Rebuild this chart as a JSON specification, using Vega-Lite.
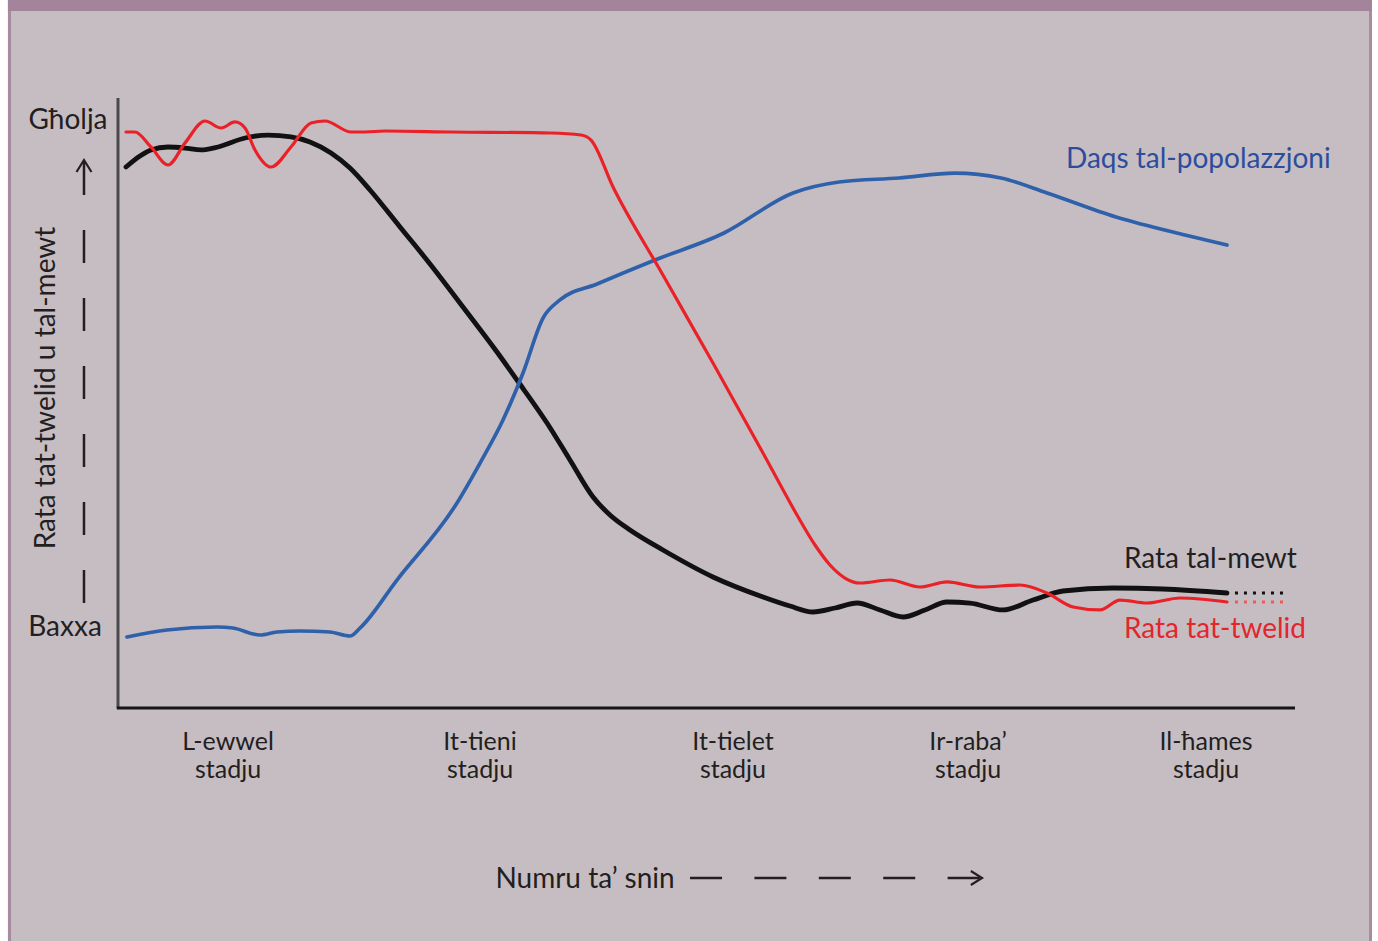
{
  "$schema": "https://vega.github.io/schema/vega-lite/v6.json",
  "width": 1177,
  "height": 610,
  "autosize": {"type": "none"},
  "padding": {"left": 118, "top": 98, "right": 83, "bottom": 233},
  "background": "#c6bdc3",
  "config": {
    "view": {"stroke": null},
    "font": "Lato",
    "text": {"font": "Lato", "fontSize": 28, "color": "#231f20"}
  },
  "datasets": {
    "curves": [
      {"series": "Rata tal-mewt", "x": 0.68, "y": 88.69},
      {"series": "Rata tal-mewt", "x": 1.87, "y": 90.49},
      {"series": "Rata tal-mewt", "x": 2.80, "y": 91.48},
      {"series": "Rata tal-mewt", "x": 4.25, "y": 91.97},
      {"series": "Rata tal-mewt", "x": 5.69, "y": 91.80},
      {"series": "Rata tal-mewt", "x": 7.05, "y": 91.48},
      {"series": "Rata tal-mewt", "x": 8.50, "y": 91.97},
      {"series": "Rata tal-mewt", "x": 10.79, "y": 93.44},
      {"series": "Rata tal-mewt", "x": 12.74, "y": 93.93},
      {"series": "Rata tal-mewt", "x": 14.70, "y": 93.61},
      {"series": "Rata tal-mewt", "x": 16.31, "y": 92.79},
      {"series": "Rata tal-mewt", "x": 18.10, "y": 90.98},
      {"series": "Rata tal-mewt", "x": 19.71, "y": 88.52},
      {"series": "Rata tal-mewt", "x": 21.41, "y": 84.92},
      {"series": "Rata tal-mewt", "x": 23.96, "y": 78.85},
      {"series": "Rata tal-mewt", "x": 26.51, "y": 72.79},
      {"series": "Rata tal-mewt", "x": 29.31, "y": 65.74},
      {"series": "Rata tal-mewt", "x": 32.20, "y": 58.36},
      {"series": "Rata tal-mewt", "x": 33.90, "y": 53.77},
      {"series": "Rata tal-mewt", "x": 36.45, "y": 46.72},
      {"series": "Rata tal-mewt", "x": 38.40, "y": 40.66},
      {"series": "Rata tal-mewt", "x": 40.36, "y": 34.59},
      {"series": "Rata tal-mewt", "x": 41.80, "y": 31.64},
      {"series": "Rata tal-mewt", "x": 43.50, "y": 29.18},
      {"series": "Rata tal-mewt", "x": 46.30, "y": 25.90},
      {"series": "Rata tal-mewt", "x": 50.55, "y": 21.48},
      {"series": "Rata tal-mewt", "x": 54.80, "y": 18.20},
      {"series": "Rata tal-mewt", "x": 57.09, "y": 16.72},
      {"series": "Rata tal-mewt", "x": 59.05, "y": 15.74},
      {"series": "Rata tal-mewt", "x": 60.92, "y": 16.39},
      {"series": "Rata tal-mewt", "x": 62.79, "y": 17.21},
      {"series": "Rata tal-mewt", "x": 64.74, "y": 16.07},
      {"series": "Rata tal-mewt", "x": 66.70, "y": 14.92},
      {"series": "Rata tal-mewt", "x": 68.56, "y": 16.07},
      {"series": "Rata tal-mewt", "x": 70.43, "y": 17.38},
      {"series": "Rata tal-mewt", "x": 72.39, "y": 17.21},
      {"series": "Rata tal-mewt", "x": 75.19, "y": 16.07},
      {"series": "Rata tal-mewt", "x": 77.74, "y": 17.70},
      {"series": "Rata tal-mewt", "x": 80.29, "y": 19.18},
      {"series": "Rata tal-mewt", "x": 84.54, "y": 19.67},
      {"series": "Rata tal-mewt", "x": 88.78, "y": 19.51},
      {"series": "Rata tal-mewt", "x": 94.22, "y": 18.85},

      {"series": "Daqs tal-popolazzjoni", "x": 0.76, "y": 11.64},
      {"series": "Daqs tal-popolazzjoni", "x": 4.16, "y": 12.79},
      {"series": "Daqs tal-popolazzjoni", "x": 8.41, "y": 13.28},
      {"series": "Daqs tal-popolazzjoni", "x": 9.77, "y": 13.11},
      {"series": "Daqs tal-popolazzjoni", "x": 12.06, "y": 11.97},
      {"series": "Daqs tal-popolazzjoni", "x": 13.51, "y": 12.46},
      {"series": "Daqs tal-popolazzjoni", "x": 15.46, "y": 12.62},
      {"series": "Daqs tal-popolazzjoni", "x": 18.01, "y": 12.46},
      {"series": "Daqs tal-popolazzjoni", "x": 19.71, "y": 11.80},
      {"series": "Daqs tal-popolazzjoni", "x": 20.56, "y": 13.11},
      {"series": "Daqs tal-popolazzjoni", "x": 23.70, "y": 20.98},
      {"series": "Daqs tal-popolazzjoni", "x": 28.80, "y": 33.61},
      {"series": "Daqs tal-popolazzjoni", "x": 30.76, "y": 40.16},
      {"series": "Daqs tal-popolazzjoni", "x": 32.71, "y": 47.21},
      {"series": "Daqs tal-popolazzjoni", "x": 34.41, "y": 54.92},
      {"series": "Daqs tal-popolazzjoni", "x": 36.11, "y": 63.93},
      {"series": "Daqs tal-popolazzjoni", "x": 37.55, "y": 66.89},
      {"series": "Daqs tal-popolazzjoni", "x": 40.70, "y": 69.51},
      {"series": "Daqs tal-popolazzjoni", "x": 45.62, "y": 73.44},
      {"series": "Daqs tal-popolazzjoni", "x": 51.49, "y": 77.87},
      {"series": "Daqs tal-popolazzjoni", "x": 57.35, "y": 84.43},
      {"series": "Daqs tal-popolazzjoni", "x": 61.26, "y": 86.23},
      {"series": "Daqs tal-popolazzjoni", "x": 66.36, "y": 86.89},
      {"series": "Daqs tal-popolazzjoni", "x": 71.11, "y": 87.70},
      {"series": "Daqs tal-popolazzjoni", "x": 75.02, "y": 86.89},
      {"series": "Daqs tal-popolazzjoni", "x": 78.93, "y": 84.43},
      {"series": "Daqs tal-popolazzjoni", "x": 84.79, "y": 80.49},
      {"series": "Daqs tal-popolazzjoni", "x": 90.65, "y": 77.54},
      {"series": "Daqs tal-popolazzjoni", "x": 94.22, "y": 75.90},

      {"series": "Rata tat-twelid", "x": 0.68, "y": 94.43},
      {"series": "Rata tat-twelid", "x": 1.44, "y": 94.43},
      {"series": "Rata tat-twelid", "x": 2.80, "y": 91.97},
      {"series": "Rata tat-twelid", "x": 4.25, "y": 89.02},
      {"series": "Rata tat-twelid", "x": 5.69, "y": 92.62},
      {"series": "Rata tat-twelid", "x": 7.39, "y": 96.23},
      {"series": "Rata tat-twelid", "x": 8.75, "y": 95.08},
      {"series": "Rata tat-twelid", "x": 9.94, "y": 96.07},
      {"series": "Rata tat-twelid", "x": 10.79, "y": 95.08},
      {"series": "Rata tat-twelid", "x": 11.64, "y": 91.48},
      {"series": "Rata tat-twelid", "x": 13.00, "y": 88.69},
      {"series": "Rata tat-twelid", "x": 14.70, "y": 91.97},
      {"series": "Rata tat-twelid", "x": 16.40, "y": 95.90},
      {"series": "Rata tat-twelid", "x": 17.59, "y": 96.23},
      {"series": "Rata tat-twelid", "x": 19.80, "y": 94.43},
      {"series": "Rata tat-twelid", "x": 20.99, "y": 94.43},
      {"series": "Rata tat-twelid", "x": 22.68, "y": 94.59},
      {"series": "Rata tat-twelid", "x": 28.29, "y": 94.43},
      {"series": "Rata tat-twelid", "x": 36.79, "y": 94.26},
      {"series": "Rata tat-twelid", "x": 39.34, "y": 93.93},
      {"series": "Rata tat-twelid", "x": 40.19, "y": 93.11},
      {"series": "Rata tat-twelid", "x": 42.06, "y": 85.41},
      {"series": "Rata tat-twelid", "x": 46.30, "y": 70.98},
      {"series": "Rata tat-twelid", "x": 50.55, "y": 56.56},
      {"series": "Rata tat-twelid", "x": 54.80, "y": 41.80},
      {"series": "Rata tat-twelid", "x": 57.69, "y": 31.64},
      {"series": "Rata tat-twelid", "x": 59.22, "y": 26.72},
      {"series": "Rata tat-twelid", "x": 60.49, "y": 23.44},
      {"series": "Rata tat-twelid", "x": 61.76, "y": 21.31},
      {"series": "Rata tat-twelid", "x": 63.04, "y": 20.49},
      {"series": "Rata tat-twelid", "x": 65.59, "y": 20.98},
      {"series": "Rata tat-twelid", "x": 68.14, "y": 19.84},
      {"series": "Rata tat-twelid", "x": 70.43, "y": 20.66},
      {"series": "Rata tat-twelid", "x": 73.24, "y": 19.84},
      {"series": "Rata tat-twelid", "x": 76.64, "y": 20.16},
      {"series": "Rata tat-twelid", "x": 78.93, "y": 18.85},
      {"series": "Rata tat-twelid", "x": 81.14, "y": 16.56},
      {"series": "Rata tat-twelid", "x": 83.43, "y": 16.07},
      {"series": "Rata tat-twelid", "x": 85.13, "y": 17.70},
      {"series": "Rata tat-twelid", "x": 87.43, "y": 17.21},
      {"series": "Rata tat-twelid", "x": 90.23, "y": 18.03},
      {"series": "Rata tat-twelid", "x": 94.22, "y": 17.38}
    ]
  },
  "layer": [
    {
      "data": {"values": [{}]},
      "mark": {"type": "rule", "color": "#4a4a4a", "strokeWidth": 3},
      "encoding": {
        "x": {"datum": 0, "type": "quantitative", "scale": {"domain": [0, 100], "nice": false, "zero": false}, "axis": null},
        "y": {"datum": 0, "type": "quantitative", "scale": {"domain": [0, 100], "nice": false, "zero": false}, "axis": null},
        "y2": {"datum": 100}
      }
    },
    {
      "data": {"values": [{}]},
      "mark": {"type": "rule", "color": "#151515", "strokeWidth": 3},
      "encoding": {
        "x": {"datum": -0.1, "type": "quantitative", "axis": null},
        "x2": {"datum": 100},
        "y": {"datum": 0, "type": "quantitative", "axis": null}
      }
    },
    {
      "data": {"name": "curves"},
      "transform": [{"filter": "datum.series == 'Rata tal-mewt'"}],
      "mark": {"type": "line", "interpolate": "monotone", "color": "#111111", "strokeWidth": 4.8, "strokeCap": "round"},
      "encoding": {
        "x": {"field": "x", "type": "quantitative", "scale": {"domain": [0, 100], "nice": false, "zero": false}, "axis": null},
        "y": {"field": "y", "type": "quantitative", "scale": {"domain": [0, 100], "nice": false, "zero": false}, "axis": null}
      }
    },
    {
      "data": {"name": "curves"},
      "transform": [{"filter": "datum.series == 'Daqs tal-popolazzjoni'"}],
      "mark": {"type": "line", "interpolate": "monotone", "color": "#2f61ab", "strokeWidth": 3.7, "strokeCap": "round"},
      "encoding": {
        "x": {"field": "x", "type": "quantitative", "axis": null},
        "y": {"field": "y", "type": "quantitative", "axis": null}
      }
    },
    {
      "data": {"name": "curves"},
      "transform": [{"filter": "datum.series == 'Rata tat-twelid'"}],
      "mark": {"type": "line", "interpolate": "monotone", "color": "#ea2228", "strokeWidth": 3.2, "strokeCap": "round"},
      "encoding": {
        "x": {"field": "x", "type": "quantitative", "axis": null},
        "y": {"field": "y", "type": "quantitative", "axis": null}
      }
    },
    {
      "data": {"values": [{}]},
      "mark": {"type": "rect", "fill": "#ffffff"},
      "encoding": {
        "x": {"datum": -10.03, "type": "quantitative", "axis": null},
        "x2": {"datum": -9.35},
        "y": {"datum": 116.07, "type": "quantitative", "axis": null},
        "y2": {"datum": -38.2}
      }
    },
    {
      "data": {"values": [{}]},
      "mark": {"type": "rect", "fill": "#ffffff"},
      "encoding": {
        "x": {"datum": 106.54, "type": "quantitative", "axis": null},
        "x2": {"datum": 107.05},
        "y": {"datum": 116.07, "type": "quantitative", "axis": null},
        "y2": {"datum": -38.2}
      }
    },
    {
      "data": {"values": [{}]},
      "mark": {"type": "rect", "fill": "#a88b9f"},
      "encoding": {
        "x": {"datum": -9.35, "type": "quantitative", "axis": null},
        "x2": {"datum": -9.09},
        "y": {"datum": 116.07, "type": "quantitative", "axis": null},
        "y2": {"datum": -38.2}
      }
    },
    {
      "data": {"values": [{}]},
      "mark": {"type": "rect", "fill": "#a88b9f"},
      "encoding": {
        "x": {"datum": 106.29, "type": "quantitative", "axis": null},
        "x2": {"datum": 106.54},
        "y": {"datum": 116.07, "type": "quantitative", "axis": null},
        "y2": {"datum": -38.2}
      }
    },
    {
      "data": {"values": [{}]},
      "mark": {"type": "rect", "fill": "#a4849a"},
      "encoding": {
        "x": {"datum": -9.35, "type": "quantitative", "axis": null},
        "x2": {"datum": 106.54},
        "y": {"datum": 116.07, "type": "quantitative", "axis": null},
        "y2": {"datum": 114.26}
      }
    },
    {
      "data": {"values": [{}]},
      "mark": {"type": "rule", "color": "#111111", "strokeWidth": 3, "strokeDash": [3, 6]},
      "encoding": {
        "x": {"datum": 94.9, "type": "quantitative", "axis": null},
        "x2": {"datum": 99.4},
        "y": {"datum": 18.85, "type": "quantitative", "axis": null}
      }
    },
    {
      "data": {"values": [{}]},
      "mark": {"type": "rule", "color": "#f0585c", "strokeWidth": 3, "strokeDash": [3, 6]},
      "encoding": {
        "x": {"datum": 94.9, "type": "quantitative", "axis": null},
        "x2": {"datum": 99.4},
        "y": {"datum": 17.38, "type": "quantitative", "axis": null}
      }
    },
    {
      "data": {"values": [{}]},
      "mark": {"type": "rule", "color": "#231f20", "strokeWidth": 2.5, "strokeDash": [33, 35]},
      "encoding": {
        "x": {"datum": -2.89, "type": "quantitative", "axis": null},
        "y": {"datum": 17.21, "type": "quantitative", "axis": null},
        "y2": {"datum": 89.51}
      }
    },
    {
      "data": {"values": [{}]},
      "mark": {"type": "point", "shape": "M-1,1.6L0,0L1,1.6", "size": 225, "filled": false, "stroke": "#231f20", "strokeWidth": 2.2, "opacity": 1},
      "encoding": {
        "x": {"datum": -2.89, "type": "quantitative", "axis": null},
        "y": {"datum": 89.84, "type": "quantitative", "axis": null}
      }
    },
    {
      "data": {"values": [{}]},
      "mark": {"type": "rule", "color": "#231f20", "strokeWidth": 2.5, "strokeDash": [32, 32.4]},
      "encoding": {
        "x": {"datum": 48.6, "type": "quantitative", "axis": null},
        "x2": {"datum": 73.24},
        "y": {"datum": -27.87, "type": "quantitative", "axis": null}
      }
    },
    {
      "data": {"values": [{}]},
      "mark": {"type": "point", "shape": "M-1.6,-1L0,0L-1.6,1", "size": 196, "filled": false, "stroke": "#231f20", "strokeWidth": 2.2, "opacity": 1},
      "encoding": {
        "x": {"datum": 73.41, "type": "quantitative", "axis": null},
        "y": {"datum": -27.87, "type": "quantitative", "axis": null}
      }
    },
    {
      "data": {"values": [{}]},
      "mark": {"type": "text", "align": "center", "baseline": "middle", "color": "#231f20", "fontSize": 28},
      "encoding": {
        "x": {"datum": 39.68, "type": "quantitative", "axis": null},
        "y": {"datum": -28.2, "type": "quantitative", "axis": null},
        "text": {"value": "Numru ta’ snin"}
      }
    },
    {
      "data": {"values": [{}]},
      "mark": {"type": "text", "align": "center", "baseline": "middle", "color": "#231f20", "fontSize": 28},
      "encoding": {
        "x": {"datum": -4.25, "type": "quantitative", "axis": null},
        "y": {"datum": 96.23, "type": "quantitative", "axis": null},
        "text": {"value": "Għolja"}
      }
    },
    {
      "data": {"values": [{}]},
      "mark": {"type": "text", "align": "center", "baseline": "middle", "color": "#231f20", "fontSize": 28},
      "encoding": {
        "x": {"datum": -4.5, "type": "quantitative", "axis": null},
        "y": {"datum": 13.11, "type": "quantitative", "axis": null},
        "text": {"value": "Baxxa"}
      }
    },
    {
      "data": {"values": [{}]},
      "mark": {"type": "text", "align": "center", "baseline": "middle", "angle": 270, "color": "#231f20", "fontSize": 28},
      "encoding": {
        "x": {"datum": -6.05, "type": "quantitative", "axis": null},
        "y": {"datum": 52.46, "type": "quantitative", "axis": null},
        "text": {"value": "Rata tat-twelid u tal-mewt"}
      }
    },
    {
      "data": {"values": [{}]},
      "mark": {"type": "text", "align": "center", "baseline": "alphabetic", "lineHeight": 28, "color": "#231f20", "fontSize": 25},
      "encoding": {
        "x": {"datum": 9.35, "type": "quantitative", "axis": null},
        "y": {"datum": -6.89, "type": "quantitative", "axis": null},
        "text": {"value": ["L-ewwel", "stadju"]}
      }
    },
    {
      "data": {"values": [{}]},
      "mark": {"type": "text", "align": "center", "baseline": "alphabetic", "lineHeight": 28, "color": "#231f20", "fontSize": 25},
      "encoding": {
        "x": {"datum": 30.76, "type": "quantitative", "axis": null},
        "y": {"datum": -6.89, "type": "quantitative", "axis": null},
        "text": {"value": ["It-tieni", "stadju"]}
      }
    },
    {
      "data": {"values": [{}]},
      "mark": {"type": "text", "align": "center", "baseline": "alphabetic", "lineHeight": 28, "color": "#231f20", "fontSize": 25},
      "encoding": {
        "x": {"datum": 52.25, "type": "quantitative", "axis": null},
        "y": {"datum": -6.89, "type": "quantitative", "axis": null},
        "text": {"value": ["It-tielet", "stadju"]}
      }
    },
    {
      "data": {"values": [{}]},
      "mark": {"type": "text", "align": "center", "baseline": "alphabetic", "lineHeight": 28, "color": "#231f20", "fontSize": 25},
      "encoding": {
        "x": {"datum": 72.22, "type": "quantitative", "axis": null},
        "y": {"datum": -6.89, "type": "quantitative", "axis": null},
        "text": {"value": ["Ir-raba’", "stadju"]}
      }
    },
    {
      "data": {"values": [{}]},
      "mark": {"type": "text", "align": "center", "baseline": "alphabetic", "lineHeight": 28, "color": "#231f20", "fontSize": 25},
      "encoding": {
        "x": {"datum": 92.44, "type": "quantitative", "axis": null},
        "y": {"datum": -6.89, "type": "quantitative", "axis": null},
        "text": {"value": ["Il-ħames", "stadju"]}
      }
    },
    {
      "data": {"values": [{}]},
      "mark": {"type": "text", "align": "left", "baseline": "middle", "color": "#2b4d9c", "fontSize": 28},
      "encoding": {
        "x": {"datum": 80.54, "type": "quantitative", "axis": null},
        "y": {"datum": 89.83, "type": "quantitative", "axis": null},
        "text": {"value": "Daqs tal-popolazzjoni"}
      }
    },
    {
      "data": {"values": [{}]},
      "mark": {"type": "text", "align": "left", "baseline": "middle", "color": "#231f20", "fontSize": 28},
      "encoding": {
        "x": {"datum": 85.47, "type": "quantitative", "axis": null},
        "y": {"datum": 24.26, "type": "quantitative", "axis": null},
        "text": {"value": "Rata tal-mewt"}
      }
    },
    {
      "data": {"values": [{}]},
      "mark": {"type": "text", "align": "left", "baseline": "middle", "color": "#e3262b", "fontSize": 28},
      "encoding": {
        "x": {"datum": 85.47, "type": "quantitative", "axis": null},
        "y": {"datum": 12.78, "type": "quantitative", "axis": null},
        "text": {"value": "Rata tat-twelid"}
      }
    }
  ]
}
